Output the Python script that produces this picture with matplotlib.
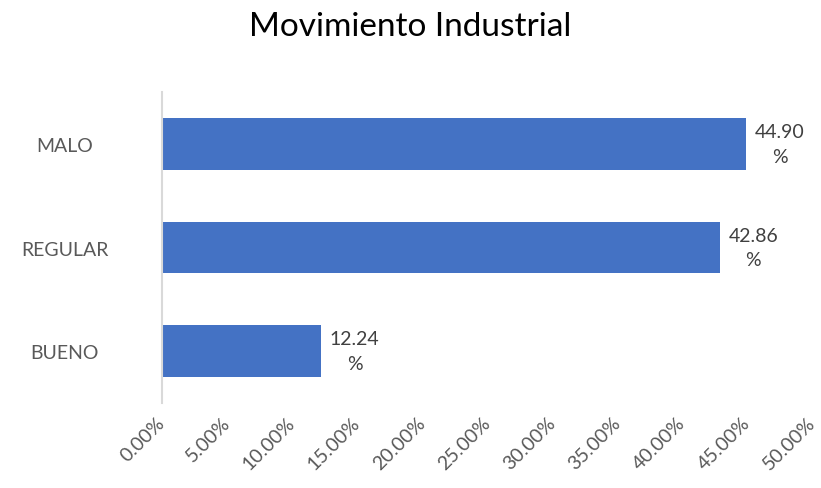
import numpy as np
import matplotlib
matplotlib.use("Agg")
import matplotlib.pyplot as plt
from matplotlib.ticker import PercentFormatter

categories = ["BUENO", "REGULAR", "MALO"]
values = [12.24, 42.86, 44.90]
xticks = [0, 5, 10, 15, 20, 25, 30, 35, 40, 45, 50]

plt.rcParams["font.family"] = ["Lato", "DejaVu Sans"]

fig = plt.figure(figsize=(8.21, 4.89), dpi=100)
ax = fig.add_axes([0.1973, 0.1738, 0.7927, 0.636])

ypos = np.arange(len(categories))
ax.barh(ypos, values, height=0.5, color="#4472C4")

for y, v in zip(ypos, values):
    ax.annotate(f"{v:.2f}\n%", (v, y), xytext=(24, 0), textcoords="offset points",
                ha="center", va="center", fontsize=14, color="#404040", linespacing=1.55)

ax.set_xlim(0, 50)
ax.set_ylim(-0.5, 2.5)
ax.set_xticks(xticks)
ax.xaxis.set_major_formatter(PercentFormatter(decimals=2))
ax.set_yticks(ypos)
ax.set_yticklabels(categories)

for s in ["top", "right", "bottom"]:
    ax.spines[s].set_visible(False)
ax.spines["left"].set_color("#D9D9D9")
ax.spines["left"].set_linewidth(1.5)

ax.tick_params(axis="x", length=0, pad=12, labelsize=14, labelcolor="#595959")
ax.tick_params(axis="y", length=0, pad=70, labelsize=14, labelcolor="#595959")
for lab in ax.get_xticklabels():
    lab.set_rotation(45)
    lab.set_ha("right")
    lab.set_va("center")
    lab.set_rotation_mode("anchor")
for lab in ax.get_yticklabels():
    lab.set_ha("center")

fig.suptitle("Movimiento Industrial", x=0.5, y=0.975, fontsize=24, color="#000000")

fig.savefig("out.png", dpi=100)
